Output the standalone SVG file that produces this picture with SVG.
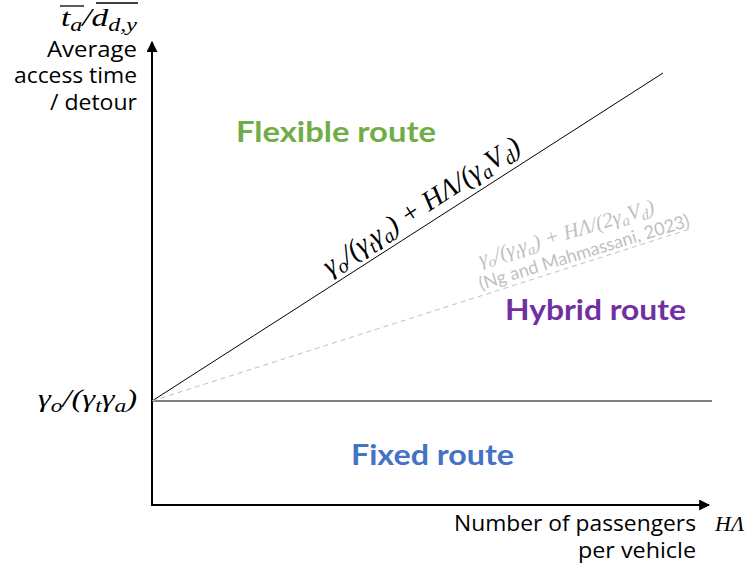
<svg xmlns="http://www.w3.org/2000/svg" width="750" height="571" viewBox="0 0 750 571">
<defs>
<style>
.lbl{font-family:"Open Sans",Lato,"Liberation Sans",sans-serif;fill:#000}
.math{font-family:"Liberation Serif","DejaVu Serif",serif;font-style:italic}
.route{font-family:Lato,"Open Sans","Liberation Sans",sans-serif;font-weight:bold;font-size:28px}
.axis{stroke:#000;stroke-width:2;fill:none}
</style>
<marker id="ah" viewBox="0 0 10 10" refX="9" refY="5" markerWidth="5.5" markerHeight="5.5" orient="auto" markerUnits="strokeWidth">
<path d="M0,0 L10,5 L0,10 Z" fill="#000"/>
</marker>
</defs>
<rect width="750" height="571" fill="#fff"/>
<g id="connectors">
<line class="axis" x1="152" y1="506" x2="152" y2="42" marker-end="url(#ah)"/>
<line class="axis" x1="151" y1="505" x2="709" y2="505" marker-end="url(#ah)"/>
<line x1="152" y1="401" x2="663" y2="73" stroke="#000" stroke-width="1"/>
<line x1="152" y1="401" x2="712" y2="401" stroke="#000" stroke-width="1"/>
<line x1="152" y1="401" x2="690" y2="229" stroke="#c0c0c0" stroke-width="1" stroke-dasharray="5,4"/>
</g>
<g id="y-label">
<text class="math" font-size="25" x="61" y="26" textLength="76" lengthAdjust="spacingAndGlyphs">t<tspan dy="5" font-size="18">a</tspan><tspan dy="-5">/d</tspan><tspan dy="5" font-size="18">d,y</tspan></text>
<line x1="60" y1="6" x2="84" y2="6" stroke="#000" stroke-width="1.3"/>
<line x1="96" y1="3" x2="138" y2="3" stroke="#000" stroke-width="1.3"/>
<text class="lbl" font-size="21" text-anchor="end" x="137" y="57" textLength="90" lengthAdjust="spacingAndGlyphs">Average</text>
<text class="lbl" font-size="21" text-anchor="end" x="137" y="83" textLength="123" lengthAdjust="spacingAndGlyphs">access time</text>
<text class="lbl" font-size="21" text-anchor="end" x="137" y="110" textLength="87" lengthAdjust="spacingAndGlyphs">/ detour</text>
</g>
<g id="y-tick">
<text class="math" font-size="25" x="38" y="407" textLength="99" lengthAdjust="spacingAndGlyphs">γ<tspan dy="5" font-size="18">o</tspan><tspan dy="-5">/(γ</tspan><tspan dy="5" font-size="18">t</tspan><tspan dy="-5">γ</tspan><tspan dy="5" font-size="18">a</tspan><tspan dy="-5">)</tspan></text>
</g>
<g id="x-label">
<text class="lbl" font-size="21" text-anchor="end" x="696" y="531" textLength="242" lengthAdjust="spacingAndGlyphs">Number of passengers</text>
<text class="lbl" font-size="21" text-anchor="end" x="696" y="558" textLength="118" lengthAdjust="spacingAndGlyphs">per vehicle</text>
<text class="math" font-size="22" x="715" y="531">HΛ</text>
</g>
<g id="flexible">
<text class="route" fill="#70ad47" x="236" y="142" textLength="200" lengthAdjust="spacingAndGlyphs">Flexible route</text>
</g>
<g id="hybrid">
<text class="route" fill="#7030a0" x="505" y="320" textLength="181" lengthAdjust="spacingAndGlyphs">Hybrid route</text>
</g>
<g id="fixed">
<text class="route" fill="#4472c4" x="351" y="465" textLength="163" lengthAdjust="spacingAndGlyphs">Fixed route</text>
</g>
<g id="main-formula" transform="translate(330,276) rotate(-33)">
<text class="math" font-size="28" x="0" y="0" fill="#000">γ<tspan dy="5" font-size="20">o</tspan><tspan dy="-5">/(γ</tspan><tspan dy="5" font-size="20">t</tspan><tspan dy="-5">γ</tspan><tspan dy="5" font-size="20">a</tspan><tspan dy="-5">) + HΛ/(γ</tspan><tspan dy="5" font-size="20">a</tspan><tspan dy="-5">V</tspan><tspan dy="5" font-size="20">d</tspan><tspan dy="-5">)</tspan></text>
</g>
<g id="ng-formula" transform="translate(481,266) rotate(-17)">
<text class="math" font-size="21" x="0" y="0" fill="#bfbfbf">γ<tspan dy="4" font-size="15">o</tspan><tspan dy="-4">/(γ</tspan><tspan dy="4" font-size="15">t</tspan><tspan dy="-4">γ</tspan><tspan dy="4" font-size="15">a</tspan><tspan dy="-4">) + HΛ/(2γ</tspan><tspan dy="4" font-size="15">a</tspan><tspan dy="-4">V</tspan><tspan dy="4" font-size="15">d</tspan><tspan dy="-4">)</tspan></text>
<text font-family="Lato,'Open Sans','Liberation Sans',sans-serif" font-size="18" x="-7" y="23" fill="#bfbfbf">(Ng and Mahmassani, 2023)</text>
</g>
</svg>
